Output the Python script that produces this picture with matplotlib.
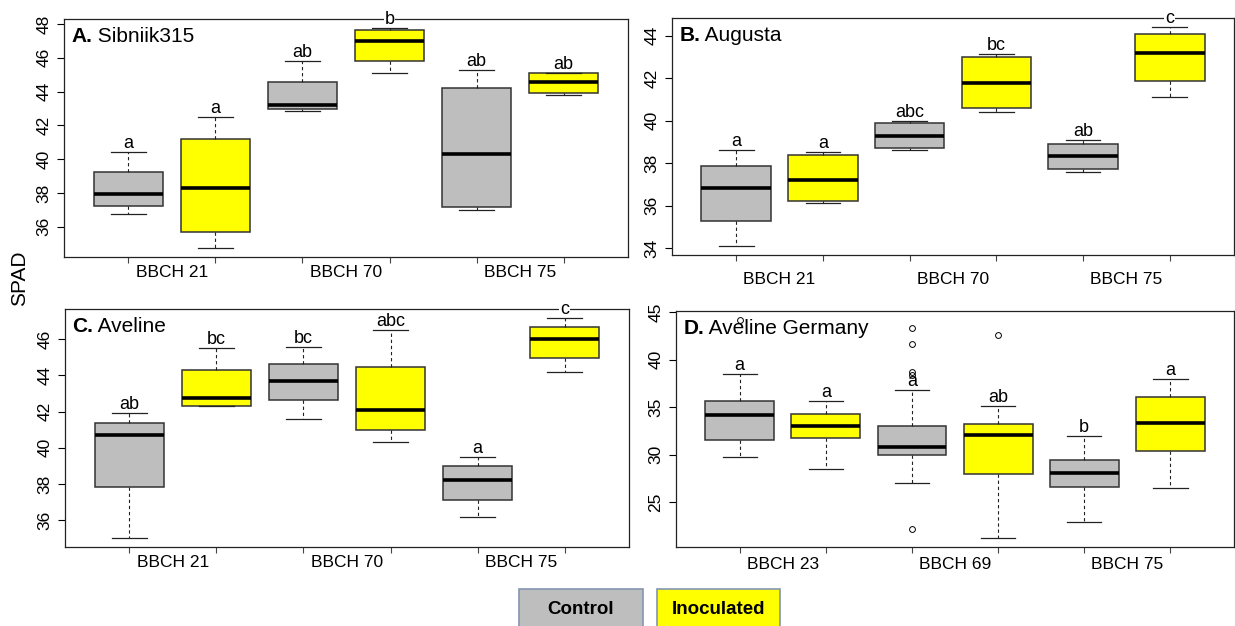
import matplotlib
matplotlib.use("Agg")
import matplotlib.pyplot as plt
from matplotlib.patches import Rectangle
from matplotlib.ticker import MultipleLocator

plt.rcParams["font.family"] = ["Liberation Sans", "DejaVu Sans"]

# ------------------------------------------------------------------
# Data: box statistics (lower whisker, Q1, median, Q3, upper whisker)
# order in each panel: ctrl, inoc, ctrl, inoc, ctrl, inoc
# ------------------------------------------------------------------
groups = ["Control", "Inoculated"]

a_stages = ["BBCH 21", "BBCH 70", "BBCH 75"]
a_lo = [36.74, 34.73, 42.83, 45.09, 37.01, 43.80]
a_q1 = [37.21, 35.70, 42.97, 45.83, 37.17, 43.90]
a_med = [37.93, 38.31, 43.20, 47.00, 40.28, 44.56]
a_q3 = [39.22, 41.19, 44.56, 47.64, 44.24, 45.09]
a_hi = [40.42, 42.49, 45.83, 47.78, 45.27, 45.09]
a_letters = ["a", "a", "ab", "b", "ab", "ab"]

b_stages = ["BBCH 21", "BBCH 70", "BBCH 75"]
b_lo = [34.09, 36.12, 38.60, 40.42, 37.58, 41.11]
b_q1 = [35.30, 36.20, 38.71, 40.58, 37.74, 41.86]
b_med = [36.81, 37.23, 39.26, 41.79, 38.33, 43.18]
b_q3 = [37.86, 38.38, 39.87, 42.98, 38.90, 44.08]
b_hi = [38.60, 38.51, 39.98, 43.14, 39.10, 44.42]
b_letters = ["a", "a", "abc", "bc", "ab", "c"]

c_stages = ["BBCH 21", "BBCH 70", "BBCH 75"]
c_lo = [35.00, 42.29, 41.60, 40.32, 36.19, 44.22]
c_q1 = [37.84, 42.29, 42.66, 41.01, 37.09, 44.98]
c_med = [40.73, 42.75, 43.72, 42.10, 38.24, 46.00]
c_q3 = [41.36, 44.33, 44.66, 44.48, 38.99, 46.67]
c_hi = [41.92, 45.50, 45.59, 46.52, 39.51, 47.19]
c_letters = ["ab", "bc", "bc", "abc", "a", "c"]

d_stages = ["BBCH 23", "BBCH 69", "BBCH 75"]
d_lo = [29.76, 28.46, 27.06, 21.19, 22.94, 26.47]
d_q1 = [31.57, 31.75, 29.93, 27.94, 26.64, 30.38]
d_med = [34.23, 33.04, 30.80, 32.10, 28.04, 33.39]
d_q3 = [35.63, 34.30, 33.01, 33.25, 29.44, 36.12]
d_hi = [38.46, 35.63, 36.82, 35.10, 31.92, 37.94]
d_fliers = [[44.23], [], [43.39, 41.68, 38.74, 38.43, 22.13], [42.62], [], []]
d_letters = ["a", "a", "a", "ab", "b", "a"]

GREY = "#BEBEBE"
YELLOW = "#FFFF00"
W, H = 1235, 626

fig = plt.figure(figsize=(12.35, 6.26), dpi=100)


def px_axes(x0, y0, x1, y1):
    return fig.add_axes([x0 / W, 1 - y1 / H, (x1 - x0) / W, (y1 - y0) / H])


def panel(ax, tag, name, stages, lo, q1, med, q3, hi, letters,
          fliers=None, step=2, lab_pad=6):
    n = len(med)
    if fliers is None:
        fliers = [[] for _ in range(n)]
    stats = []
    for i in range(n):
        stats.append(dict(whislo=lo[i], q1=q1[i], med=med[i], q3=q3[i],
                          whishi=hi[i], fliers=fliers[i]))
    pos = list(range(1, n + 1))
    bp = ax.bxp(stats, positions=pos, widths=0.8, capwidths=0.4,
                patch_artist=True, zorder=4,
                boxprops=dict(edgecolor="#333333", linewidth=1.1),
                medianprops=dict(color="black", linewidth=2.6),
                whiskerprops=dict(color="#222222", linewidth=0.8,
                                  linestyle=(0, (3, 2.5))),
                capprops=dict(color="#222222", linewidth=0.9),
                flierprops=dict(marker="o", markersize=4.2,
                                markerfacecolor="none",
                                markeredgecolor="black",
                                markeredgewidth=0.7))
    for i, b in enumerate(bp["boxes"]):
        b.set_facecolor(GREY if i % 2 == 0 else YELLOW)

    # R style limits: 4 % padding around the data range
    allv = list(lo) + list(hi) + [v for f in fliers for v in f]
    lo_v, hi_v = min(allv), max(allv)
    pad = (hi_v - lo_v) * 0.04
    ax.set_ylim(lo_v - pad, hi_v + pad)
    ax.set_xlim(0.5 - n * 0.04, n + 0.5 + n * 0.04)

    ax.yaxis.set_major_locator(MultipleLocator(step))
    ax.tick_params(axis="y", labelsize=12.5, length=5, width=0.8, pad=4)
    for t in ax.get_yticklabels():
        t.set_rotation(90)
        t.set_va("center")
    ax.set_xticks(pos)
    ax.set_xticklabels([])
    ax.tick_params(axis="x", which="major", length=4, width=0.8,
                   color="#444444")
    ax.set_xticks([1.5, 3.5, 5.5], minor=True)
    ax.set_xticklabels(stages, minor=True)
    ax.tick_params(axis="x", which="minor", length=0, labelsize=12.5,
                   pad=lab_pad)
    for s in ax.spines.values():
        s.set_linewidth(0.9)
        s.set_color("#222222")

    for x, y, lab in zip(pos, hi, letters):
        ax.annotate(lab, xy=(x, y), xytext=(0, 0), textcoords="offset points",
                    ha="center", va="bottom", fontsize=13, zorder=3,
                    annotation_clip=False,
                    bbox=dict(facecolor="white", edgecolor="none", pad=0.6))

    t = ax.text(0.013, 0.925, tag, transform=ax.transAxes, fontsize=15,
                fontweight="bold", va="center", ha="left", zorder=3)
    ax.annotate(" " + name, xy=(1, 0), xycoords=t, va="bottom", ha="left",
                fontsize=15, zorder=3)


ax_a = px_axes(64, 19, 628, 257)
ax_b = px_axes(672, 18, 1234, 255)
ax_c = px_axes(65, 309, 629, 547)
ax_d = px_axes(676, 311, 1234, 547)

panel(ax_a, "A.", "Sibniik315", a_stages, a_lo, a_q1, a_med, a_q3, a_hi,
      a_letters, lab_pad=6)
panel(ax_b, "B.", "Augusta", b_stages, b_lo, b_q1, b_med, b_q3, b_hi,
      b_letters, lab_pad=12)
panel(ax_c, "C.", "Aveline", c_stages, c_lo, c_q1, c_med, c_q3, c_hi,
      c_letters, lab_pad=6)
panel(ax_d, "D.", "Aveline Germany", d_stages, d_lo, d_q1, d_med, d_q3, d_hi,
      d_letters, fliers=d_fliers, step=5, lab_pad=7)

fig.text(20 / W, 1 - 278 / H, "SPAD", rotation=90, fontsize=15,
         ha="center", va="center")

# legend boxes at the bottom
for (x0, x1), label, col in zip([(519, 643), (657, 780)], groups,
                                [GREY, YELLOW]):
    fig.add_artist(Rectangle((x0 / W, 1 - 632 / H), (x1 - x0) / W,
                             (632 - 589) / H, transform=fig.transFigure,
                             facecolor=col, edgecolor="#8496B0",
                             linewidth=1.2))
    fig.text((x0 + x1) / 2 / W, 1 - 609 / H, label, fontsize=13.5,
             fontweight="bold", ha="center", va="center")

fig.savefig("out.png", dpi=100, facecolor="white")
